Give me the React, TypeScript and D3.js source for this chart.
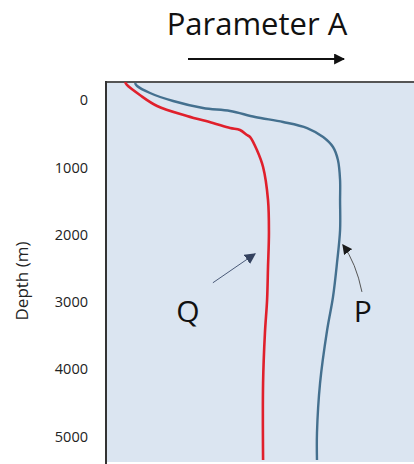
import React, { useEffect, useRef } from 'react';
import * as d3 from 'd3';

// depth in metres, parameter in arbitrary units (0–100 across the frame)
const qDepth = [-271, -227, -78, 85, 234, 338, 413, 442, 517, 547, 740, 993, 1483, 1974, 2480, 2970, 3461, 4205, 5350];
const qValue = [6.2, 6.8, 11.0, 16.6, 26.3, 34.7, 40.3, 43.5, 45.8, 46.8, 49.0, 51.0, 52.6, 52.9, 52.6, 52.3, 51.6, 51.0, 51.0];

const pDepth = [-256, -212, -108, 11, 115, 160, 249, 323, 413, 547, 695, 888, 1186, 1483, 1930, 2420, 2926, 3416, 4205, 4948, 5350];
const pValue = [9.4, 10.1, 14.3, 21.8, 31.5, 40.3, 48.4, 57.5, 65.3, 70.5, 73.7, 75.3, 76.0, 76.0, 76.0, 75.0, 73.7, 71.8, 69.5, 68.5, 68.5];

const depthTicks = [0, 1000, 2000, 3000, 4000, 5000];

const W = 414;
const H = 464;

export default function App() {
  const svgRef = useRef<SVGSVGElement>(null);

  useEffect(() => {
    if (!svgRef.current) return;
    const svg = d3.select(svgRef.current);
    svg.selectAll('*').remove();

    const frame = { left: 106, top: 82, right: 420, bottom: 462 };

    const x = d3.scaleLinear().domain([0, 100]).range([106, 414]);
    const y = d3.scaleLinear().domain([0, 5000]).range([100.25, 436.5]);

    const defs = svg.append('defs');
    defs.append('clipPath').attr('id', 'plot-clip')
      .append('rect')
      .attr('x', frame.left).attr('y', frame.top)
      .attr('width', frame.right - frame.left).attr('height', frame.bottom - frame.top);

    const mkHead = (id: string, color: string, size: number) => {
      defs.append('marker')
        .attr('id', id)
        .attr('viewBox', '0 0 10 10')
        .attr('refX', 9).attr('refY', 5)
        .attr('markerWidth', size).attr('markerHeight', size)
        .attr('markerUnits', 'userSpaceOnUse')
        .attr('orient', 'auto')
        .append('path')
        .attr('d', 'M0,0 L10,5 L0,10 Z')
        .attr('fill', color);
    };
    mkHead('head-title', '#111', 11);
    mkHead('head-q', '#34425f', 11);
    mkHead('head-p', '#1a1a1a', 10);

    // title + arrow
    svg.append('text')
      .attr('x', 257).attr('y', 35)
      .attr('text-anchor', 'middle')
      .attr('font-family', '"Open Sans", sans-serif')
      .attr('font-size', 31)
      .attr('fill', '#111')
      .text('Parameter A');

    svg.append('line')
      .attr('x1', 188).attr('y1', 59)
      .attr('x2', 344).attr('y2', 59)
      .attr('stroke', '#111')
      .attr('stroke-width', 2)
      .attr('marker-end', 'url(#head-title)');

    // plot background
    svg.append('rect')
      .attr('x', frame.left).attr('y', frame.top)
      .attr('width', frame.right - frame.left).attr('height', frame.bottom - frame.top)
      .attr('fill', '#dbe5f1');

    svg.append('line')
      .attr('x1', frame.left).attr('x2', frame.right)
      .attr('y1', frame.top).attr('y2', frame.top)
      .attr('stroke', '#555').attr('stroke-width', 1.8);
    svg.append('line')
      .attr('x1', frame.left).attr('x2', frame.left)
      .attr('y1', frame.top - 0.9).attr('y2', frame.bottom + 2)
      .attr('stroke', '#333').attr('stroke-width', 2);

    // depth ticks
    svg.append('g')
      .selectAll('text')
      .data(depthTicks)
      .enter()
      .append('text')
      .attr('x', 88)
      .attr('y', d => y(d))
      .attr('dy', '0.36em')
      .attr('text-anchor', 'end')
      .attr('font-family', '"Open Sans", sans-serif')
      .attr('font-size', 14.5)
      .attr('fill', '#222')
      .text(d => d3.format('d')(d));

    svg.append('text')
      .attr('transform', 'translate(28,281) rotate(-90)')
      .attr('text-anchor', 'middle')
      .attr('font-family', '"Open Sans", sans-serif')
      .attr('font-size', 17)
      .attr('fill', '#222')
      .text('Depth (m)');

    // profiles
    const line = d3.line<[number, number]>()
      .x(d => x(d[0]))
      .y(d => y(d[1]))
      .curve(d3.curveCatmullRom.alpha(0.5));

    const plot = svg.append('g').attr('clip-path', 'url(#plot-clip)');

    plot.append('path')
      .datum(qValue.map((v, i) => [v, qDepth[i]] as [number, number]))
      .attr('d', line)
      .attr('fill', 'none')
      .attr('stroke', '#e0202c')
      .attr('stroke-width', 2.6)
      .attr('stroke-linejoin', 'round');

    plot.append('path')
      .datum(pValue.map((v, i) => [v, pDepth[i]] as [number, number]))
      .attr('d', line)
      .attr('fill', 'none')
      .attr('stroke', '#44708f')
      .attr('stroke-width', 2.4)
      .attr('stroke-linejoin', 'round');

    // annotations
    svg.append('line')
      .attr('x1', x(34.7)).attr('y1', y(2714))
      .attr('x2', x(48.4)).attr('y2', y(2283))
      .attr('stroke', '#4a5a78')
      .attr('stroke-width', 1)
      .attr('marker-end', 'url(#head-q)');

    const pArrow = d3.path();
    pArrow.moveTo(x(83.1), y(2850));
    pArrow.quadraticCurveTo(x(81.2), y(2420), x(76.9), y(2150));
    svg.append('path')
      .attr('d', pArrow.toString())
      .attr('fill', 'none')
      .attr('stroke', '#555')
      .attr('stroke-width', 1)
      .attr('marker-end', 'url(#head-p)');

    const label = (t: string, vx: number, vd: number) =>
      svg.append('text')
        .attr('x', x(vx)).attr('y', y(vd))
        .attr('text-anchor', 'middle')
        .attr('font-family', '"Open Sans", sans-serif')
        .attr('font-size', 30)
        .attr('fill', '#111')
        .text(t);
    label('Q', 26.6, 3300);
    label('P', 83.4, 3300);
  }, []);

  return (
    <svg
      ref={svgRef}
      width={W}
      height={H}
      style={{ position: 'absolute', left: 0, top: 0, background: '#fff' }}
    />
  );
}
